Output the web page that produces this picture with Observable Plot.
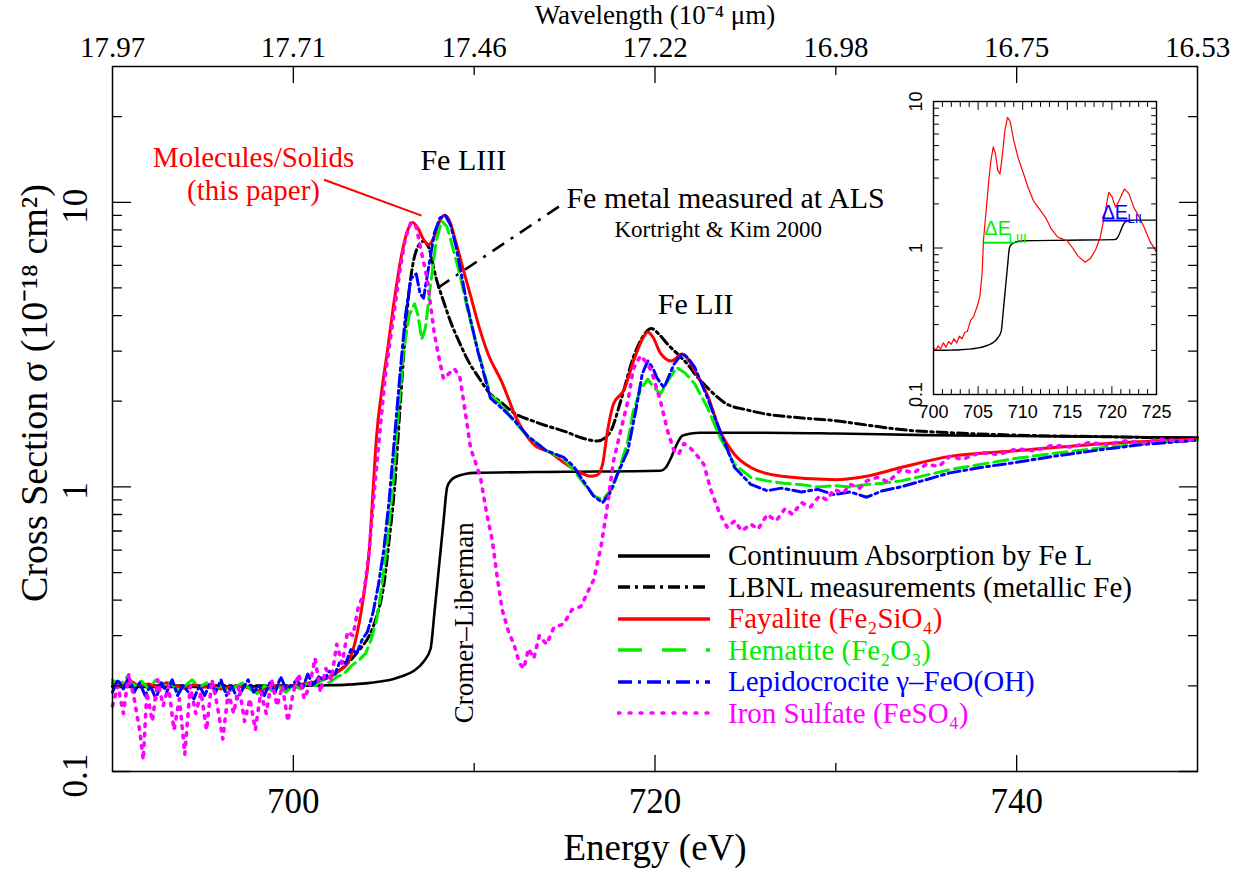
<!DOCTYPE html>
<html>
<head>
<meta charset="utf-8">
<script src="https://cdn.jsdelivr.net/npm/d3@7"></script>
<script src="https://cdn.jsdelivr.net/npm/@observablehq/plot@0.6"></script>
<style>
  html, body { margin: 0; padding: 0; background: #fff; }
  #wrap { position: relative; width: 1255px; height: 871px; overflow: hidden; background: #fff; }
  #main { position: absolute; left: 0; top: 0; }
  #inset { position: absolute; left: 880px; top: 80px; }
  #legend { position: absolute; left: 617px; top: 540px; font-family: "Liberation Serif", "Times New Roman", serif; font-size: 29px; line-height: 1; }
  .row { display: flex; align-items: center; height: 31.5px; white-space: nowrap; }
  .row svg { width: 94px; height: 10px; margin-right: 17px; flex: none; }
</style>
</head>
<body>
<div id="wrap">
  <div id="main"></div>
  <div id="inset"></div>
  <div id="legend"></div>
</div>
<script>
// ---------------- data (energy in eV, cross section in 1e-18 cm^2) ----------------
const continuum = [[690,0.198],[694,0.198],[698,0.199],[700,0.2],[702,0.201],[703,0.202],[704,0.204],[704.8,0.207],[705.5,0.211],[706,0.216],[706.67,0.226],[707.2,0.243],[707.59,0.27],[707.8,0.36],[708.05,0.52],[708.3,0.75],[708.51,1.0],[708.75,1.06],[709.06,1.09],[709.5,1.11],[710,1.12],[715,1.13],[720.3,1.14],[720.6,1.17],[720.85,1.25],[721.05,1.34],[721.3,1.45],[721.5,1.51],[722,1.54],[722.5,1.55],[726,1.55],[730,1.54],[735,1.52],[740,1.51],[745,1.5],[750,1.49]];

const lbnlMetallicFe = [[690,0.2],[695,0.2],[700,0.2],[701,0.205],[702,0.215],[703,0.24],[703.7,0.27],[704.2,0.3],[704.6,0.35],[705,0.45],[705.3,0.65],[705.6,1.0],[705.9,1.9],[706.1,2.9],[706.3,4.2],[706.6,6.0],[706.9,7.0],[707.2,7.3],[707.5,6.9],[707.9,5.4],[708.3,4.5],[708.7,3.8],[709.2,3.2],[709.7,2.75],[710.2,2.45],[710.9,2.12],[711.5,1.98],[712.2,1.82],[713.3,1.7],[714,1.64],[715.1,1.56],[715.9,1.49],[716.8,1.45],[717.5,1.55],[718.1,2.0],[718.8,2.85],[719.3,3.35],[719.8,3.6],[720.2,3.45],[720.7,3.17],[721.2,2.95],[721.8,2.7],[722.3,2.45],[722.9,2.23],[724,1.95],[725,1.87],[726.2,1.8],[728,1.75],[729.9,1.71],[731.7,1.65],[733.6,1.59],[736.3,1.55],[740,1.52],[745,1.5],[750,1.48]];

const fayalite = [[690,0.205],[690.5,0.2],[691,0.207],[691.5,0.2],[692,0.203],[692.5,0.198],[693,0.205],[693.5,0.2],[694,0.196],[694.5,0.202],[695,0.198],[695.5,0.2],[696,0.195],[696.5,0.198],[697,0.2],[697.5,0.197],[698,0.192],[698.5,0.196],[699,0.2],[699.5,0.198],[700,0.2],[700.5,0.203],[701,0.205],[701.5,0.21],[702,0.215],[702.5,0.225],[703,0.24],[703.5,0.3],[703.9,0.42],[704.2,0.6],[704.4,0.95],[704.6,1.5],[704.9,2.2],[705.2,3.0],[705.6,4.6],[706,6.6],[706.3,7.9],[706.6,8.5],[706.9,8.1],[707.2,7.4],[707.5,7.1],[707.8,7.6],[708.1,8.6],[708.35,9.0],[708.6,8.7],[709,7.2],[709.4,5.8],[709.8,4.7],[710.3,3.6],[710.8,2.9],[711.5,2.36],[712.4,1.71],[713.3,1.41],[714.2,1.32],[715.1,1.2],[715.9,1.12],[716.4,1.09],[716.8,1.1],[717.1,1.2],[717.36,1.55],[717.7,1.95],[718.3,2.2],[718.8,2.75],[719.3,3.3],[719.6,3.5],[719.9,3.35],[720.3,2.95],[720.9,2.77],[721.5,2.93],[722.2,2.56],[722.9,2.1],[723.6,1.57],[724.4,1.3],[725.3,1.17],[727,1.09],[730,1.06],[731.7,1.09],[733.6,1.17],[736.3,1.28],[740,1.34],[745,1.42],[750,1.47]];

const hematite = [[690,0.21],[690.4,0.2],[690.8,0.215],[691.2,0.2],[691.6,0.208],[692,0.195],[692.4,0.21],[692.8,0.2],[693.2,0.205],[693.6,0.192],[694,0.2],[694.4,0.21],[694.8,0.198],[695.2,0.205],[695.6,0.193],[696,0.2],[696.4,0.19],[696.8,0.198],[697.2,0.205],[697.6,0.195],[698,0.188],[698.4,0.2],[698.8,0.192],[699.2,0.198],[699.6,0.19],[700,0.2],[700.4,0.195],[700.8,0.205],[701.2,0.2],[701.6,0.21],[702,0.205],[702.4,0.215],[702.8,0.22],[703.2,0.235],[703.6,0.245],[704,0.26],[704.3,0.29],[704.6,0.34],[704.9,0.45],[705.2,0.65],[705.5,1.0],[705.8,1.8],[706.1,3.0],[706.4,4.0],[706.7,4.4],[706.9,4.0],[707.1,3.3],[707.3,3.6],[707.6,5.2],[707.9,7.3],[708.2,8.6],[708.5,8.2],[708.8,7.0],[709.2,5.6],[709.6,4.3],[710.1,3.2],[710.9,2.1],[711.5,1.95],[712.2,1.7],[713,1.5],[714,1.34],[714.95,1.25],[715.5,1.15],[715.9,1.06],[716.6,0.93],[717.1,0.9],[717.7,1.0],[718.1,1.2],[718.5,1.45],[718.8,1.85],[719.2,2.2],[719.6,2.39],[719.9,2.25],[720.3,2.12],[720.7,2.35],[721.2,2.63],[721.7,2.5],[722.2,2.3],[722.9,1.9],[723.6,1.49],[724.4,1.2],[725.3,1.08],[726.2,1.05],[727.1,1.03],[728,1.02],[729,1.0],[729.9,1.01],[730.8,1.0],[731.7,1.02],[732.6,1.03],[733.6,1.05],[735,1.1],[736.3,1.15],[738,1.2],[740,1.26],[742,1.31],[745,1.38],[747.5,1.43],[750,1.46]];

const lepidocrocite = [[690,0.19],[690.3,0.21],[690.6,0.195],[690.9,0.215],[691.2,0.19],[691.5,0.205],[691.8,0.185],[692.1,0.2],[692.4,0.18],[692.7,0.205],[693,0.19],[693.3,0.21],[693.6,0.185],[693.9,0.2],[694.2,0.19],[694.5,0.18],[694.8,0.2],[695.1,0.185],[695.4,0.205],[695.7,0.19],[696,0.21],[696.3,0.185],[696.6,0.2],[696.9,0.18],[697.2,0.195],[697.5,0.21],[697.8,0.19],[698.1,0.2],[698.4,0.185],[698.7,0.205],[699,0.19],[699.3,0.215],[699.6,0.195],[699.9,0.2],[700.2,0.21],[700.5,0.195],[700.8,0.22],[701.1,0.2],[701.4,0.215],[701.7,0.21],[702,0.225],[702.3,0.22],[702.6,0.245],[702.9,0.24],[703.2,0.27],[703.5,0.26],[703.8,0.29],[704.1,0.31],[704.4,0.36],[704.7,0.45],[705,0.6],[705.3,0.9],[705.6,1.5],[705.9,2.5],[706.2,4.0],[706.5,5.4],[706.8,5.6],[707.0,4.8],[707.2,4.6],[707.5,6.0],[707.8,7.8],[708.1,8.8],[708.4,9.0],[708.7,8.3],[709.0,7.0],[709.6,4.4],[710.2,3.0],[710.9,2.05],[711.5,1.9],[712.2,1.72],[713,1.5],[714,1.34],[714.95,1.27],[715.5,1.18],[715.9,1.08],[716.6,0.93],[717.1,0.88],[717.5,0.95],[717.9,1.1],[718.5,1.34],[719,1.95],[719.3,2.5],[719.6,2.77],[719.9,2.6],[720.1,2.42],[720.5,2.23],[721.05,2.7],[721.5,2.94],[721.8,2.85],[722.2,2.63],[722.9,2.06],[723.6,1.57],[724.4,1.17],[725.3,1.02],[726.2,0.97],[727,0.99],[728.1,0.96],[729,0.98],[729.9,0.94],[730.8,0.96],[731.7,0.92],[732.6,0.97],[733.6,1.0],[735,1.06],[736.3,1.12],[738,1.17],[740,1.22],[742,1.28],[745,1.36],[747,1.41],[750,1.46]];

const ironSulfate = [[690,0.17],[690.3,0.2],[690.6,0.16],[690.9,0.22],[691.2,0.18],[691.5,0.14],[691.7,0.11],[691.9,0.19],[692.2,0.15],[692.5,0.21],[692.8,0.17],[693.1,0.2],[693.4,0.14],[693.7,0.18],[694,0.115],[694.3,0.2],[694.6,0.16],[694.9,0.19],[695.2,0.14],[695.5,0.21],[695.8,0.17],[696.1,0.13],[696.4,0.19],[696.7,0.16],[697,0.2],[697.3,0.15],[697.6,0.18],[697.9,0.14],[698.2,0.19],[698.5,0.16],[698.8,0.21],[699.1,0.17],[699.4,0.2],[699.7,0.15],[700,0.19],[700.3,0.22],[700.6,0.18],[700.9,0.2],[701.2,0.25],[701.5,0.19],[701.8,0.23],[702.1,0.21],[702.4,0.28],[702.7,0.24],[703,0.31],[703.3,0.3],[703.6,0.38],[703.9,0.42],[704.2,0.6],[704.5,1.0],[704.8,1.6],[705.1,2.5],[705.5,3.8],[705.9,5.8],[706.2,7.5],[706.5,8.5],[706.8,8.2],[707.1,6.6],[707.4,5.4],[707.6,4.3],[707.8,3.45],[708.0,2.95],[708.3,2.4],[708.6,2.5],[708.9,2.6],[709.2,2.45],[709.5,1.85],[709.8,1.37],[710.35,1.08],[710.7,0.8],[711.0,0.65],[711.3,0.47],[711.55,0.37],[711.9,0.31],[712.2,0.28],[712.5,0.24],[712.75,0.23],[713.0,0.27],[713.3,0.25],[713.6,0.3],[714.0,0.28],[714.4,0.32],[714.95,0.33],[715.4,0.37],[715.9,0.38],[716.3,0.43],[716.6,0.47],[717.0,0.61],[717.3,0.8],[717.45,0.94],[717.7,1.23],[718.1,1.57],[718.5,2.0],[718.8,2.6],[719.2,2.89],[719.5,2.75],[719.8,2.56],[720.3,2.0],[720.7,1.57],[721.05,1.34],[721.3,1.3],[721.6,1.42],[721.9,1.38],[722.2,1.32],[722.7,1.2],[723.1,0.97],[723.6,0.8],[724,0.72],[724.4,0.76],[724.8,0.7],[725.3,0.74],[725.7,0.71],[726.2,0.8],[726.7,0.76],[727.2,0.84],[727.6,0.8],[728.1,0.88],[728.6,0.85],[729.1,0.93],[729.5,0.9],[729.9,0.98],[730.4,0.95],[730.8,1.02],[731.3,0.99],[731.7,1.05],[732.3,1.08],[732.9,1.04],[733.6,1.15],[734.3,1.12],[735,1.2],[735.7,1.18],[736.3,1.28],[737,1.25],[738,1.32],[739,1.3],[740,1.36],[741,1.34],[742,1.4],[743,1.38],[744,1.43],[745,1.41],[746,1.45],[747,1.43],[748,1.47],[749,1.45],[750,1.47]];

// inset: Fayalite spectrum with the edge-jump markers
const insetFayalite = [[700,0.21],[700.3,0.2],[700.5,0.215],[700.8,0.205],[701.1,0.225],[701.4,0.21],[701.7,0.23],[702,0.22],[702.3,0.24],[702.6,0.225],[702.9,0.25],[703.2,0.24],[703.5,0.265],[703.8,0.27],[704.15,0.32],[704.5,0.34],[704.9,0.4],[705.2,0.47],[705.45,0.67],[705.6,1.12],[705.9,1.8],[706.2,2.9],[706.45,4.0],[706.7,4.9],[706.95,4.4],[707.2,3.4],[707.45,3.2],[707.7,4.2],[708.0,6.3],[708.3,7.8],[708.6,7.3],[709.0,5.4],[709.5,4.1],[710.1,3.2],[710.6,2.6],[711.2,2.1],[712.0,1.8],[712.6,1.6],[713.2,1.35],[713.9,1.19],[714.5,1.15],[715.0,1.12],[715.6,1.0],[716.2,0.88],[717.0,0.8],[717.6,0.85],[718.2,0.98],[718.7,1.19],[719.2,1.7],[719.65,2.4],[720.0,2.25],[720.4,1.9],[720.8,2.1],[721.4,2.53],[721.9,2.35],[722.45,1.9],[723.0,1.65],[723.6,1.39],[724.3,1.1],[725,0.94]];

// axis ticks and labels
const energyTicksMajor = [700, 720, 740];
const energyTicksMinor = [710, 730];
const topTickEnergy = [690, 700, 710, 720, 730, 740, 750];
const wavelengthLabels = ["17.97", "17.71", "17.46", "17.22", "16.98", "16.75", "16.53"];
const sigmaTicksMajor = [0.1, 1, 10];
const sigmaLabels = ["0.1", "1", "10"];
const sigmaTicksMinor = [0.2,0.3,0.4,0.5,0.6,0.7,0.8,0.9,2,3,4,5,6,7,8,9,20];
const insetEnergyMajor = [700, 705, 710, 715, 720, 725];
const insetEnergyMinor = [701,702,703,704,706,707,708,709,711,712,713,714,716,717,718,719,721,722,723,724];
const insetSigmaMinor = [0.2,0.3,0.4,0.5,0.6,0.7,0.8,0.9,2,3,4,5,6,7,8,9];

// annotations (data coordinates: eV, cross section)
const deltaLIII = {from: 705.65, to: 708.84, level: 1.087};
const deltaLII = {from: 718.94, to: 722.1, level: 1.54};
const moleculesLeader = {x1: 701.7, y1: 12.0, x2: 707.09, y2: 8.98};
const alsLeader = {x1: 707.98, y1: 5.0, x2: 714.94, y2: 9.9};

const legendNames = ["Continuum Absorption by Fe L", "LBNL measurements (metallic Fe)", "Fayalite (Fe₂SiO₄)", "Hematite (Fe₂O₃)", "Lepidocrocite γ–FeO(OH)", "Iron Sulfate (FeSO₄)"];
const legendColors = ["#000", "#000", "#ff0000", "#00ee00", "#0000ff", "#ff00ff"];
const legendDash = [null, "12 5 3 5", null, "24 20", "14 6 3 6", "2 9"];

// ---------------- helpers ----------------
const SERIF = "Liberation Serif, Times New Roman, serif";
const SANS = "Liberation Sans, Arial, sans-serif";
const tickShape = {draw(ctx, l) { ctx.moveTo(0, 0); ctx.lineTo(0, -l); }};
function ticksX(values, edge, rotate, length, w = 1.3) {
  return Plot.vector(values, {x: d => d, y: () => edge, rotate, length, anchor: "start", shape: tickShape, stroke: "black", strokeWidth: w});
}
function ticksY(values, edge, rotate, length, w = 1.3) {
  return Plot.vector(values, {y: d => d, x: () => edge, rotate, length, anchor: "start", shape: tickShape, stroke: "black", strokeWidth: w});
}
const X = d => d[0], Y = d => d[1];

// ---------------- main chart ----------------
const main = Plot.plot({
  width: 1255, height: 871,
  marginLeft: 112, marginRight: 58, marginTop: 66, marginBottom: 100,
  style: {fontFamily: SERIF, background: "white", overflow: "visible"},
  x: {domain: [690, 750], axis: null},
  y: {type: "log", domain: [0.1, 30], axis: null},
  marks: [
    Plot.line(continuum, {x: X, y: Y, stroke: "black", strokeWidth: 2.6, curve: "monotone-x"}),
    Plot.line(lbnlMetallicFe, {x: X, y: Y, stroke: "black", strokeWidth: 3, strokeDasharray: "10 4 2.5 4", curve: "monotone-x"}),
    Plot.line(fayalite, {x: X, y: Y, stroke: "#ff0000", strokeWidth: 3, curve: "monotone-x"}),
    Plot.line(hematite, {x: X, y: Y, stroke: "#00ee00", strokeWidth: 3, strokeDasharray: "14 6"}),
    Plot.line(lepidocrocite, {x: X, y: Y, stroke: "#0000ff", strokeWidth: 3, strokeDasharray: "12 4 3 4"}),
    Plot.line(ironSulfate, {x: X, y: Y, stroke: "#ff00ff", strokeWidth: 3.6, strokeDasharray: "2.5 7", strokeLinecap: "round"}),
    // leaders
    Plot.link([moleculesLeader], {x1: "x1", y1: "y1", x2: "x2", y2: "y2", stroke: "#ff0000", strokeWidth: 2}),
    Plot.link([alsLeader], {x1: "x1", y1: "y1", x2: "x2", y2: "y2", stroke: "black", strokeWidth: 2.6, strokeDasharray: "14 8 3 8"}),
    // annotations
    Plot.text(["Molecules/Solids"], {x: 697.8, y: 14.3, text: d => d, fill: "#ff0000", fontSize: 29}),
    Plot.text(["(this paper)"], {x: 697.8, y: 11.0, text: d => d, fill: "#ff0000", fontSize: 29}),
    Plot.text(["Fe LIII"], {x: 709.4, y: 14.0, text: d => d, fill: "black", fontSize: 30}),
    Plot.text(["Fe LII"], {x: 722.25, y: 4.37, text: d => d, fill: "black", fontSize: 30}),
    Plot.text(["Fe metal measured at ALS"], {x: 715.1, y: 10.35, text: d => d, textAnchor: "start", fill: "black", fontSize: 30}),
    Plot.text(["Kortright & Kim 2000"], {x: 723.5, y: 8.0, text: d => d, fill: "black", fontSize: 23}),
    Plot.text(["Cromer–Liberman"], {x: 709.47, y: 0.333, text: d => d, rotate: -90, fill: "black", fontSize: 27}),
    // frame & ticks
    Plot.frame({stroke: "black", strokeWidth: 1.5}),
    ticksX(energyTicksMajor, 0.1, 0, 16),
    ticksX(energyTicksMinor, 0.1, 0, 8),
    ticksX(energyTicksMajor, 30, 180, 16),
    ticksX(energyTicksMinor, 30, 180, 8),
    ticksY(sigmaTicksMajor, 690, 90, 18),
    ticksY(sigmaTicksMinor, 690, 90, 9),
    ticksY(sigmaTicksMajor, 750, 270, 18),
    ticksY(sigmaTicksMinor, 750, 270, 9),
    // tick labels
    Plot.text(energyTicksMajor, {x: d => d, frameAnchor: "bottom", lineAnchor: "middle", dy: 30, text: d => String(d), fontSize: 35, fill: "black"}),
    Plot.text(topTickEnergy, {x: d => d, frameAnchor: "top", lineAnchor: "middle", dy: -19, text: (d, i) => wavelengthLabels[i], fontSize: 29, fill: "black"}),
    Plot.text(sigmaTicksMajor, {y: d => d, frameAnchor: "left", textAnchor: "middle", lineAnchor: "middle", dx: -37, dy: 4, rotate: -90, text: (d, i) => sigmaLabels[i], fontSize: 35, fill: "black"}),
    // axis titles
    Plot.text(["Energy (eV)"], {frameAnchor: "bottom", lineAnchor: "middle", dy: 77, text: d => d, fontSize: 37, fill: "black"}),
    Plot.text(["Wavelength (10⁻⁴ μm)"], {frameAnchor: "top", lineAnchor: "middle", dy: -51, text: d => d, fontSize: 27, fill: "black"}),
    Plot.text(["Cross Section σ (10⁻¹⁸ cm²)"], {frameAnchor: "left", textAnchor: "middle", lineAnchor: "middle", dx: -78, dy: -26, rotate: -90, text: d => d, fontSize: 38, fill: "black"})
  ]
});
document.getElementById("main").appendChild(main);

// ---------------- inset ----------------
const inset = Plot.plot({
  width: 300, height: 350,
  marginLeft: 53, marginRight: 24, marginTop: 21, marginBottom: 36,
  style: {fontFamily: SANS, background: "none", overflow: "visible"},
  x: {domain: [700, 725], axis: null},
  y: {type: "log", domain: [0.1, 10], axis: null},
  marks: [
    Plot.frame({fill: "white"}),
    Plot.line(continuum, {x: X, y: Y, stroke: "black", strokeWidth: 1.4, curve: "monotone-x", clip: true}),
    Plot.line(insetFayalite, {x: X, y: Y, stroke: "#ff0000", strokeWidth: 1.2}),
    Plot.link([deltaLIII], {x1: "from", x2: "to", y1: "level", y2: "level", stroke: "#00ee00", strokeWidth: 2}),
    Plot.link([deltaLII], {x1: "from", x2: "to", y1: "level", y2: "level", stroke: "#0000ff", strokeWidth: 2}),
    Plot.text(["ΔE"], {x: 707.19, y: 1.36, text: d => d, fill: "#00ee00", fontSize: 20}),
    Plot.text(["LIII"], {x: 708.42, y: 1.15, text: d => d, textAnchor: "start", fill: "#00ee00", fontSize: 13}),
    Plot.text(["ΔE"], {x: 720.32, y: 1.74, text: d => d, fill: "#0000ff", fontSize: 20}),
    Plot.text(["LII"], {x: 721.75, y: 1.585, text: d => d, textAnchor: "start", fill: "#0000ff", fontSize: 13}),
    Plot.frame({stroke: "black", strokeWidth: 1.4}),
    ticksX(insetEnergyMajor, 0.1, 0, 8, 1),
    ticksX(insetEnergyMinor, 0.1, 0, 5, 1),
    ticksX(insetEnergyMajor, 10, 180, 8, 1),
    ticksX(insetEnergyMinor, 10, 180, 5, 1),
    ticksY(sigmaTicksMajor, 700, 90, 9, 1),
    ticksY(insetSigmaMinor, 700, 90, 5, 1),
    ticksY(sigmaTicksMajor, 725, 270, 9, 1),
    ticksY(insetSigmaMinor, 725, 270, 5, 1),
    Plot.text(insetEnergyMajor, {x: d => d, frameAnchor: "bottom", lineAnchor: "middle", dy: 18, text: d => String(d), fontSize: 18, fill: "black"}),
    Plot.text(sigmaTicksMajor, {y: d => d, frameAnchor: "left", textAnchor: "middle", lineAnchor: "middle", dx: -17, rotate: -90, text: (d, i) => sigmaLabels[i], fontSize: 18, fill: "black"})
  ]
});
document.getElementById("inset").appendChild(inset);

// ---------------- legend ----------------
const legend = document.getElementById("legend");
legendNames.forEach((name, i) => {
  const row = document.createElement("div");
  row.className = "row";
  const dash = legendDash[i] ? ` stroke-dasharray="${legendDash[i]}"` : "";
  const cap = i === 5 ? ` stroke-linecap="round"` : "";
  row.innerHTML = `<svg viewBox="0 0 94 10"><line x1="1" y1="5" x2="93" y2="5" stroke="${legendColors[i]}" stroke-width="3.5"${dash}${cap}/></svg><span style="color:${legendColors[i]}"></span>`;
  row.querySelector("span").textContent = name;
  legend.appendChild(row);
});
</script>
</body>
</html>
